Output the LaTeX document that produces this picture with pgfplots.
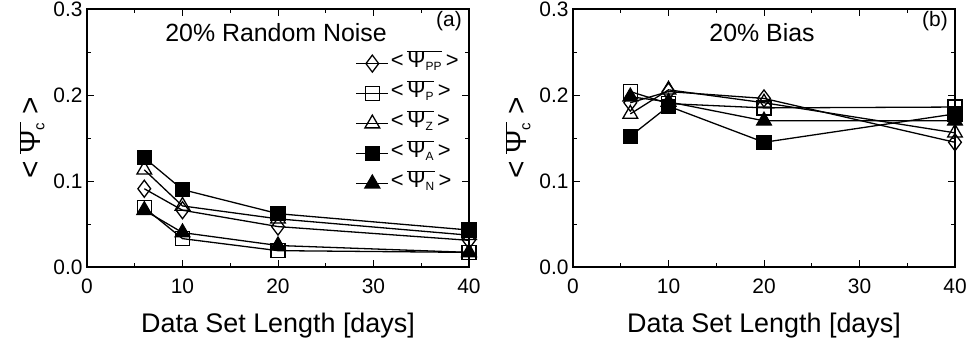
\documentclass[border=0pt]{standalone}
\usepackage{pgfplots}
\pgfplotsset{compat=1.18}
\usepackage{fontspec}
\setmainfont{Liberation Sans}
\newcommand{\psibar}[2]{\ensuremath{\overline{\mbox{Ψ}_{\mbox{\fontsize{#2}{#2}\selectfont #1}}}}}
\newcommand{\legpsi}[1]{\textless\,\psibar{#1}{12}\,\textgreater}
\pgfplotsset{
  myax/.style={
    scale only axis, width=382bp, height=258bp,
    xmin=0, xmax=40, ymin=0, ymax=0.3,
    xtick={0,10,20,30,40}, ytick={0,0.1,0.2,0.3},
    minor xtick={5,15,25,35}, minor ytick={0.05,0.15,0.25},
    tick align=inside, major tick length=7bp, minor tick length=4bp,
    tick style={line width=1pt, black},
    axis line style={line width=1.2pt},
    yticklabel style={xshift=-1bp, /pgf/number format/.cd, fixed, fixed zerofill, precision=1},
    /pgf/number format/assume math mode=true,
    ticklabel style={font=\fontsize{21}{24}\selectfont},
    xticklabel style={yshift=-8bp},
    label style={font=\fontsize{27}{30}\selectfont},
    xlabel={Data Set Length [days]},
    ylabel={{\fontsize{30}{30}\selectfont\textless}\;\psibar{c}{15}\;{\fontsize{30}{30}\selectfont\textgreater}},
    xlabel style={yshift=-13bp},
    ylabel style={yshift=2bp, font=\fontsize{28}{30}\selectfont},
    every axis plot/.append style={line width=1.3pt, black},
    clip=false,
  },
  mPP/.style={mark=diamond, mark size=8.5bp, mark options={fill=white, solid}},
  mP/.style={mark=square, mark size=7bp, mark options={fill=white}},
  mZ/.style={mark=triangle, mark size=8.5bp, mark options={fill=white}},
  mA/.style={mark=square*, mark size=7bp, mark options={fill=black}},
  mN/.style={mark=triangle*, mark size=8.5bp, mark options={fill=black}},
}
\begin{document}
\begin{tikzpicture}
\path[use as bounding box] (-87bp,-72bp) rectangle (886bp,267bp);
\begin{axis}[myax,
  legend style={draw=none, fill=none,
    at={(rel axis cs:0.695,0.855)}, anchor=north west,
    font=\fontsize{22}{24}\selectfont,
    nodes={text height=18bp, text depth=10bp, inner ysep=1bp}},
  legend cell align=left,
  legend image code/.code={%
    \draw[line width=1.3pt] (0bp,0bp) -- (32bp,0bp);
    \draw[line width=1.3pt] plot coordinates {(16bp,0bp)};},
]
\addplot[mPP] coordinates {(6,0.091) (10,0.066) (20,0.047) (40,0.031)};
\addlegendentry{\legpsi{PP}}
\addplot[mP] coordinates {(6,0.069) (10,0.033) (20,0.019) (40,0.017)};
\addlegendentry{\legpsi{P}}
\addplot[mZ] coordinates {(6,0.113) (10,0.071) (20,0.056) (40,0.037)};
\addlegendentry{\legpsi{Z}}
\addplot[mA] coordinates {(6,0.127) (10,0.090) (20,0.062) (40,0.043)};
\addlegendentry{\legpsi{A}}
\addplot[mN] coordinates {(6,0.066) (10,0.040) (20,0.025) (40,0.017)};
\addlegendentry{\legpsi{N}}
\node[font=\fontsize{25}{27}\selectfont] at (axis cs:19.8,0.273) {20\% Random Noise};
\node[font=\fontsize{21}{24}\selectfont] at (axis cs:37.9,0.286) {(a)};
\end{axis}
\begin{axis}[myax, at={(486bp,0)}]
\addplot[mPP] coordinates {(6,0.191) (10,0.204) (20,0.196) (40,0.145)};
\addplot[mP] coordinates {(6,0.204) (10,0.190) (20,0.185) (40,0.186)};
\addplot[mZ] coordinates {(6,0.178) (10,0.206) (20,0.191) (40,0.156)};
\addplot[mA] coordinates {(6,0.152) (10,0.187) (20,0.145) (40,0.178)};
\addplot[mN] coordinates {(6,0.198) (10,0.192) (20,0.170) (40,0.170)};
\node[font=\fontsize{25}{27}\selectfont] at (axis cs:19.8,0.273) {20\% Bias};
\node[font=\fontsize{21}{24}\selectfont] at (axis cs:37.9,0.286) {(b)};
\end{axis}
\end{tikzpicture}
\end{document}
